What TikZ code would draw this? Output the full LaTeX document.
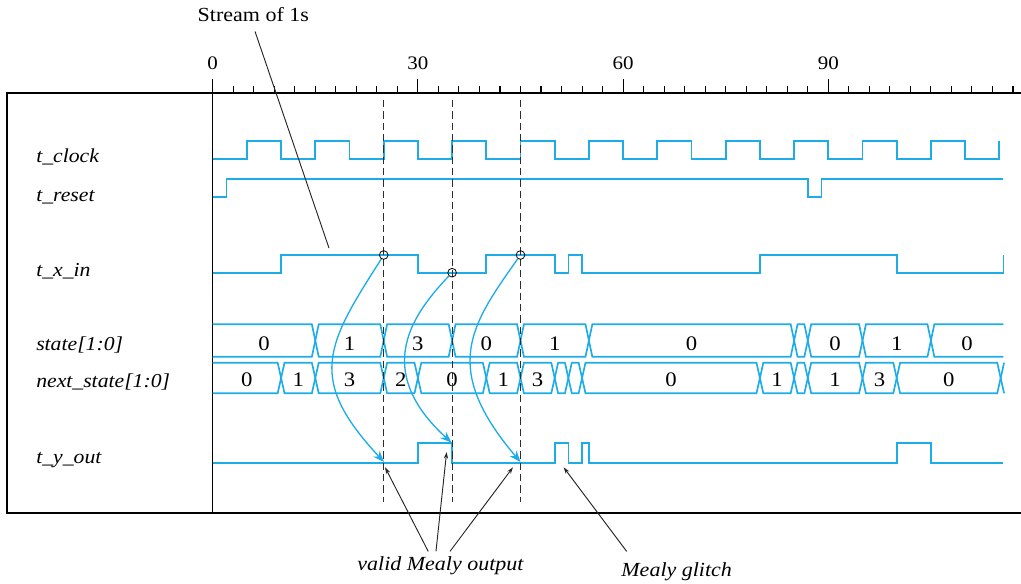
\documentclass[tikz,border=0pt]{standalone}
\usepackage{fontspec}
\setmainfont{Liberation Serif}[FakeStretch=1.1]
\usetikzlibrary{arrows.meta}
\definecolor{sigblue}{RGB}{30,172,232}
\definecolor{dashgray}{RGB}{45,45,45}
\begin{document}
\begin{tikzpicture}[x=0.75pt,y=-0.75pt,
  sig/.style={draw=sigblue,line width=1.25pt,line join=miter},
  flow/.style={draw=sigblue,line width=1pt,-{Stealth[length=8.5pt,width=6.5pt]}},
  frame/.style={draw=black,line width=0.8pt},
  axtick/.style={draw=black,line width=0.8pt},
  guide/.style={draw=dashgray,line width=0.8pt,dash pattern=on 5.5pt off 3pt},
  pointer/.style={draw=black!85,line width=0.7pt,-{Stealth[length=5pt,width=3.2pt]}},
  plainline/.style={draw=black!85,line width=0.7pt},
  lbl/.style={font=\fontsize{14.8}{17}\selectfont\itshape,anchor=base west,inner sep=0pt},
  axnum/.style={font=\fontsize{14.3}{17}\selectfont,inner sep=0pt},
  busnum/.style={font=\fontsize{15.5}{18}\selectfont,inner sep=0pt},
  ann/.style={font=\fontsize{15}{17}\selectfont\itshape},
  annup/.style={font=\fontsize{15}{17}\selectfont},
  probe/.style={circle,draw=black,line width=0.6pt,minimum size=6.5pt,inner sep=0pt}
]
\useasboundingbox (0,0) rectangle (1021,583);

% frame and axis
\draw[frame] (1021,93) -- (7,93) -- (7,513) -- (1021,513);

% signal names
\node[lbl] (lclk) at (36,162) {t\_clock};
\node[lbl] (lrst) at (36,201) {t\_reset};
\node[lbl] (lxin) at (36,276) {t\_x\_in};
\node[lbl] (lst)  at (36,350) {state[1:0]};
\node[lbl] (lnst) at (36,387) {next\_state[1:0]};
\node[lbl] (lyo)  at (36,463) {t\_y\_out};

% annotations text
\node[annup,anchor=base] (stream) at (253.3,21.5) {Stream of 1s};
\node[ann,anchor=base] (valid) at (440.5,570) {valid Mealy output};
\node[ann,anchor=base] (glitch) at (676.7,576) {Mealy glitch};

\begin{scope}[shift={(212.7,0)},x=5.13pt]
  % divider and ticks
  \draw[frame] (0,79) -- (0,513);
  \foreach \k in {1,...,39} \draw[axtick] ({3*\k},93) -- ({3*\k},85.5);
  \foreach \k in {30,60,90} \draw[axtick] (\k,93) -- (\k,79);
  \node[axnum] (n0)  at (0,63) {0};
  \node[axnum] (n30) at (30,63) {30};
  \node[axnum] (n60) at (60,63) {60};
  \node[axnum] (n90) at (90,63) {90};

  % clock
  \draw[sig] (0,158.7) \foreach \k in {0,...,10} { -- ({\k*10+5},158.7) -- ({\k*10+5},140.7) -- ({\k*10+10},140.7) -- ({\k*10+10},158.7) } -- (115,158.7) -- (115,140.7);
  % reset
  \draw[sig] (0,196.7) -- (2,196.7) -- (2,179) -- (87,179) -- (87,196.7) -- (89,196.7) -- (89,179) -- (115.6,179);
  % x_in
  \draw[sig] (0,272.7) -- (10,272.7) -- (10,255) -- (30,255) -- (30,272.7) -- (40,272.7) -- (40,255) -- (50,255) -- (50,272.7) -- (52,272.7) -- (52,255) -- (54,255) -- (54,272.7) -- (80,272.7) -- (80,255) -- (100,255) -- (100,272.7) -- (115.6,272.7) -- (115.6,255);
  % y_out
  \draw[sig] (0,462.7) -- (30,462.7) -- (30,443) -- (35,443) -- (35,462.7) -- (50,462.7) -- (50,443) -- (52,443) -- (52,462.7) -- (54,462.7) -- (54,443) -- (55,443) -- (55,462.7) -- (100,462.7) -- (100,443) -- (105,443) -- (105,462.7) -- (115.6,462.7);

  % state bus
  \draw[sig] (0,324.3) -- (14.5,324.3) -- (15,340.5) -- (14.5,356.7) -- (0,356.7);
  \foreach \a/\b in {15/25,25/35,35/45,45/55,55/85,85/87,87/95,95/105}
    \draw[sig] ({\a+0.5},324.3) -- ({\b-0.5},324.3) -- (\b,340.5) -- ({\b-0.5},356.7) -- ({\a+0.5},356.7) -- (\a,340.5) -- cycle;
  \draw[sig] (115.6,324.3) -- (105.5,324.3) -- (105,340.5) -- (105.5,356.7) -- (115.6,356.7);
  \foreach \c/\v [count=\i] in {7.5/0,20/1,30/3,40/0,50/1,70/0,91/0,100/1,110.3/0}
    \node[busnum] (st\i) at (\c,343.7) {\v};

  % next_state bus
  \draw[sig] (0,362.7) -- (9.5,362.7) -- (10,378) -- (9.5,393.3) -- (0,393.3);
  \foreach \a/\b in {10/15,15/25,25/30,30/40,40/45,45/50,50/52,52/54,54/80,80/85,85/87,87/95,95/100,100/115.2}
    \draw[sig] ({\a+0.5},362.7) -- ({\b-0.5},362.7) -- (\b,378) -- ({\b-0.5},393.3) -- ({\a+0.5},393.3) -- (\a,378) -- cycle;
  \draw[sig] (115.7,362.7) -- (115.2,378) -- (115.7,393.3);
  \foreach \c/\v [count=\i] in {5/0,12.5/1,20/3,27.5/2,35/0,42.5/1,47.5/3,67/0,82.5/1,91/1,97.5/3,107.6/0}
    \node[busnum] (ns\i) at (\c,379.5) {\v};

  % dashed guides
  \foreach \k in {25,35,45} \draw[guide] (\k,100) -- (\k,502);

  % probe circles
  \node[probe] (c1) at (25,255) {};
  \node[probe] (c2) at (35,272.7) {};
  \node[probe] (c3) at (45,255) {};
  \coordinate (e1) at (25.05,462);
  \coordinate (e2) at (34.9,442.5);
  \coordinate (e3) at (45,462);

  % pointer targets
  \coordinate (sp) at (17,248);
  \coordinate (t1) at (25.2,467.3);
  \coordinate (t2) at (34.2,452);
  \coordinate (t3) at (43.9,467.3);
  \coordinate (tg) at (51.3,467.3);
\end{scope}

% flow arrows (pixel control points)
\draw[flow] (c1.239) .. controls (325.4,345.9) and (306.9,379.2) .. (e1);
\draw[flow] (c2.225) .. controls (414.8,312.2) and (370.3,368.5) .. (e2);
\draw[flow] (c3.234) .. controls (470.6,325.5) and (440.3,367.7) .. (e3);

\draw[plainline,shorten <=4pt] (stream.south) -- (sp);
\draw[pointer] ([xshift=-9.2pt]valid.north) -- (t1);
\draw[pointer] ([xshift=-3.4pt]valid.north) -- (t2);
\draw[pointer] ([xshift=7.1pt]valid.north) -- (t3);
\draw[pointer] ([xshift=-37.5pt,yshift=4.5pt]glitch.north) -- (tg);
\end{tikzpicture}
\end{document}
